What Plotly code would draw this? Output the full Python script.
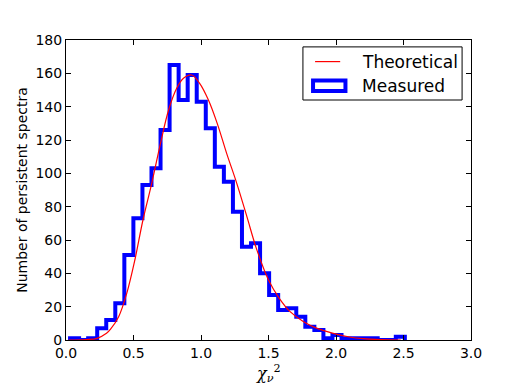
import numpy as np
import plotly.graph_objects as go

# histogram of measured reduced chi^2 (37 bins between 0.03 and 2.51)
bin_lo = 0.03
bin_hi = 2.51
counts = [1, 0, 1, 7, 12, 22, 51, 73, 93, 103, 126, 165, 144, 159, 143, 127,
          104, 95, 77, 56, 58, 40, 27, 18, 19, 14, 8, 6, 1, 3, 1, 1, 1, 1, 0, 0, 2]

# theoretical curve
theo_x = [0.02, 0.15, 0.23, 0.30, 0.33, 0.39, 0.45, 0.51, 0.57, 0.635, 0.70, 0.76,
          0.82, 0.87, 0.93, 0.99, 1.055, 1.12, 1.19, 1.265, 1.34, 1.41, 1.50,
          1.58, 1.66, 1.76, 1.86, 1.98, 2.10, 2.20, 2.33, 2.48]
theo_y = [0, 0.3, 1, 4, 6.5, 14, 28, 48, 72, 94, 118, 138,
          151, 157, 159, 154, 144, 130, 112, 94, 74, 55, 36,
          25, 17, 11, 7, 4, 1.8, 0.8, 0.2, 0]

edges = np.linspace(bin_lo, bin_hi, len(counts) + 1)
step_x = [edges[0]] + list(edges[:-1]) + [edges[-1]]
step_y = [0] + counts + [0]

fig = go.Figure()
fig.add_trace(go.Scatter(
    x=step_x, y=step_y, mode='lines', line_shape='hv',
    line=dict(color='#0000ff', width=4), showlegend=False,
))
fig.add_trace(go.Scatter(
    x=theo_x, y=theo_y, mode='lines', line_shape='spline',
    line=dict(color='#ff0000', width=1.2), showlegend=False,
))

font = dict(family='DejaVu Sans', size=14, color='black')
axis = dict(showline=True, linecolor='black', linewidth=1, mirror='allticks',
            ticks='inside', ticklen=5, tickcolor='black', showgrid=False,
            zeroline=False, tickfont=font, automargin=False)

# page body has an 8px margin, so margins are shifted by that
fig.update_layout(
    width=515, height=384,
    margin=dict(l=58, r=52, t=32, b=52),
    paper_bgcolor='white', plot_bgcolor='white',
    font=font,
    xaxis=dict(axis, range=[0, 3], dtick=0.5, tickformat='.1f'),
    yaxis=dict(axis, range=[0, 180], dtick=20,
               title=dict(text='Number of persistent spectra', font=font, standoff=4)),
)

# x axis label (chi^2_nu)
fig.add_annotation(xref='paper', yref='paper', x=0.5, y=-0.112,
                   text='<i>χ</i><sub><i>ν</i></sub><sup>2</sup>',
                   showarrow=False, xanchor='center', yanchor='middle',
                   font=dict(family='DejaVu Serif', size=16, color='black'))

# matplotlib-like legend box
fig.add_shape(type='rect', xref='paper', yref='paper', x0=0.585, x1=0.978, y0=0.8, y1=0.977,
              line=dict(color='black', width=1), fillcolor='white')
fig.add_shape(type='line', xref='paper', yref='paper', x0=0.615, x1=0.677, y0=0.928, y1=0.928,
              line=dict(color='#ff0000', width=1.2))
fig.add_shape(type='rect', xref='paper', yref='paper', x0=0.61, x1=0.69, y0=0.83, y1=0.865,
              line=dict(color='#0000ff', width=4))
fig.add_annotation(xref='paper', yref='paper', x=0.726, y=0.928, text='Theoretical',
                   showarrow=False, xanchor='left', yanchor='middle',
                   font=dict(family='DejaVu Sans', size=17, color='black'))
fig.add_annotation(xref='paper', yref='paper', x=0.726, y=0.847, text='Measured',
                   showarrow=False, xanchor='left', yanchor='middle',
                   font=dict(family='DejaVu Sans', size=17, color='black'))

fig.write_html("out.html")
